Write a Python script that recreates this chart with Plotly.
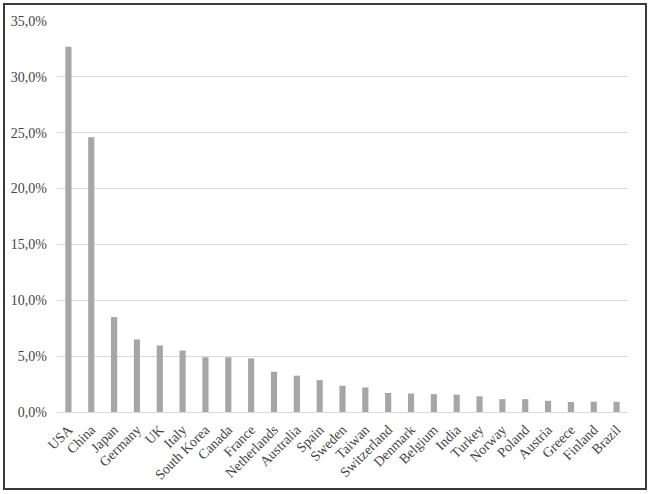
import plotly.graph_objects as go

countries = [
    "USA", "China", "Japan", "Germany", "UK", "Italy", "South Korea", "Canada",
    "France", "Netherlands", "Australia", "Spain", "Sweden", "Taiwan",
    "Switzerland", "Denmark", "Belgium", "India", "Turkey", "Norway",
    "Poland", "Austria", "Greece", "Finland", "Brazil",
]

share_pct = [
    32.7, 24.6, 8.5, 6.5, 5.95, 5.5, 4.9, 4.9,
    4.8, 3.6, 3.25, 2.85, 2.35, 2.2,
    1.7, 1.65, 1.6, 1.55, 1.4, 1.15,
    1.15, 1.0, 0.9, 0.92, 0.92,
]

share = [v / 100 for v in share_pct]

W, H = 650, 494
L, R, T, B = 57, 22, 21, 82
pw, ph = W - L - R, H - T - B

fig = go.Figure(
    go.Bar(x=countries, y=share, marker_color="#a6a6a6",
           marker_line_width=0)
)

fig.update_layout(
    width=W, height=H,
    margin=dict(l=L, r=R, t=T, b=B, autoexpand=False),
    paper_bgcolor="white", plot_bgcolor="white",
    bargap=0.73,
    separators=",.",
    showlegend=False,
    font=dict(family="Liberation Serif", size=13, color="#454545"),
)

fig.update_yaxes(
    range=[0, 0.35], dtick=0.05, tickformat=".1%",
    showgrid=True, gridcolor="#d9d9d9", gridwidth=1,
    zeroline=False, showline=False, ticks="",
    ticklabelstandoff=9, tickfont=dict(size=14), automargin=False,
)
fig.update_xaxes(
    tickangle=-45, showgrid=False, showline=True, linecolor="#d9d9d9",
    ticks="", tickfont=dict(size=14), ticklabelstandoff=3, automargin=False,
)

# outer frame around the whole chart
fig.add_shape(
    type="rect", xref="paper", yref="paper",
    x0=(4 - L) / pw, x1=(646 - L) / pw,
    y0=(T + ph - 489) / ph, y1=(T + ph - 4) / ph,
    line=dict(color="#3a3a3a", width=2), fillcolor="rgba(0,0,0,0)",
)

# page has a default body margin, drop it so the figure sits at 0,0
fig.write_html("out.html", config={"displayModeBar": False},
               post_script="document.body.style.margin='0';")
